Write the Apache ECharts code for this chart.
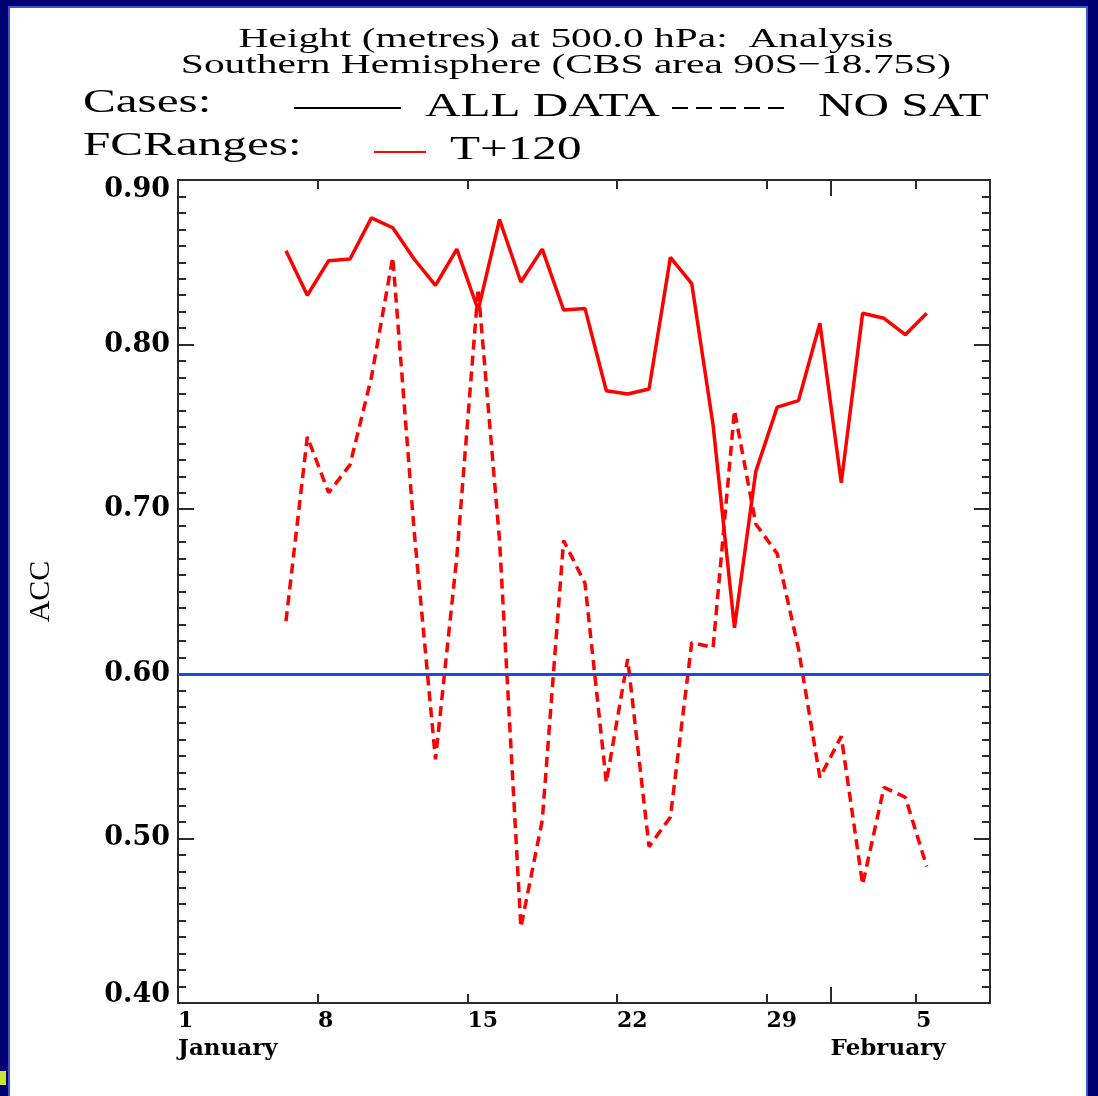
<!DOCTYPE html>
<html>
<head>
<meta charset="utf-8">
<script src="https://cdn.jsdelivr.net/npm/echarts@6/dist/echarts.min.js"></script>
<style>
  html, body { margin: 0; padding: 0; background: #fff; }
  #chart { width: 1098px; height: 1096px; }
</style>
</head>
<body>
<div id="chart"></div>
<script>
// day of January (Feb 1 = 32), one point per day at 12Z
const days = [6.5, 7.5, 8.5, 9.5, 10.5, 11.5, 12.5, 13.5, 14.5, 15.5, 16.5,
  17.5, 18.5, 19.5, 20.5, 21.5, 22.5, 23.5, 24.5, 25.5, 26.5, 27.5, 28.5,
  29.5, 30.5, 31.5, 32.5, 33.5, 34.5, 35.5, 36.5]

// ACC, all data (solid)
const allData = [0.857, 0.830, 0.851, 0.852, 0.877, 0.871, 0.852, 0.836, 0.858,
  0.821, 0.876, 0.838, 0.858, 0.821, 0.822, 0.772, 0.770, 0.773, 0.853, 0.837,
  0.751, 0.628, 0.723, 0.762, 0.766, 0.813, 0.716, 0.819, 0.816, 0.806, 0.819]

// ACC, no satellite data (dashed)
const noSat = [0.632, 0.744, 0.710, 0.727, 0.780, 0.853, 0.687, 0.548, 0.671,
  0.834, 0.681, 0.446, 0.511, 0.681, 0.655, 0.534, 0.609, 0.495, 0.513, 0.619,
  0.616, 0.760, 0.691, 0.673, 0.615, 0.537, 0.562, 0.472, 0.531, 0.525, 0.483]

const refLine = 0.597

// x axis ticks / labels
const xMin = 1.445
const xMax = 39.465
const weekTicks = [8, 15, 22, 29, 36]
const monthTicks = [32]
const dayLabelPos = [xMin, 8, 15, 22, 29, 36]
const dayLabelText = ['1', '8', '15', '22', '29', '5']
const monthLabelPos = [xMin, 32]
const monthLabelText = ['January', 'February']

const serif = '"Liberation Serif", "Times New Roman", serif'
const boldSerif = '"DejaVu Serif", serif'
const frameColor = '#2b2b2b'

function pairs(ys) {
  return days.map((d, i) => [d, ys[i]])
}

function labelFor(pos, text) {
  return function (v) {
    for (let i = 0; i < pos.length; i++) {
      if (Math.abs(v - pos[i]) < 0.01) return text[i]
    }
    return ''
  }
}

// stretched serif text, like the original plot
function wideText(x, y, text, size, sx, align) {
  return {
    type: 'text', x: x, y: y, scaleX: sx,
    style: {
      text: text, fill: '#000', font: size + 'px ' + serif,
      align: align, verticalAlign: 'middle', textAlign: align, textVerticalAlign: 'middle'
    }
  }
}

const chart = echarts.init(document.getElementById('chart'))

const yCommon = {
  type: 'value',
  min: 0.4,
  max: 0.9,
  interval: 0.1,
  splitLine: { show: false },
  axisLine: { show: true, lineStyle: { color: frameColor, width: 2 } },
  axisTick: { show: true, inside: true, length: 16, lineStyle: { color: frameColor, width: 2 } },
  minorTick: { show: true, splitNumber: 10, length: 8, lineStyle: { color: frameColor, width: 2 } }
}

const xCommon = {
  type: 'value',
  min: xMin,
  max: xMax,
  splitLine: { show: false }
}

chart.setOption({
  animation: false,
  backgroundColor: '#ffffff',
  grid: { left: 178, top: 180, right: 108, bottom: 93, containLabel: false },
  xAxis: [
    Object.assign({}, xCommon, {
      position: 'bottom',
      axisLine: { show: true, onZero: false, lineStyle: { color: frameColor, width: 2 } },
      axisTick: { show: true, inside: true, length: 9, customValues: weekTicks, lineStyle: { color: frameColor, width: 2 } },
      axisLabel: {
        show: true, customValues: dayLabelPos, formatter: labelFor(dayLabelPos, dayLabelText),
        align: 'left', margin: 7, color: '#000',
        fontFamily: boldSerif, fontWeight: 'bold', fontSize: 22
      }
    }),
    Object.assign({}, xCommon, {
      position: 'bottom',
      axisLine: { show: false, onZero: false },
      axisTick: { show: true, inside: true, length: 16, customValues: monthTicks, lineStyle: { color: frameColor, width: 2 } },
      axisLabel: {
        show: true, customValues: monthLabelPos, formatter: labelFor(monthLabelPos, monthLabelText),
        align: 'left', margin: 35, color: '#000',
        fontFamily: boldSerif, fontWeight: 'bold', fontSize: 23
      }
    }),
    Object.assign({}, xCommon, {
      position: 'top',
      axisLine: { show: true, onZero: false, lineStyle: { color: frameColor, width: 2 } },
      axisTick: { show: true, inside: true, length: 9, customValues: weekTicks, lineStyle: { color: frameColor, width: 2 } },
      axisLabel: { show: false }
    }),
    Object.assign({}, xCommon, {
      position: 'top',
      axisLine: { show: false, onZero: false },
      axisTick: { show: true, inside: true, length: 16, customValues: monthTicks, lineStyle: { color: frameColor, width: 2 } },
      axisLabel: { show: false }
    })
  ],
  yAxis: [
    Object.assign({}, yCommon, {
      position: 'left',
      name: 'ACC',
      nameLocation: 'middle',
      nameRotate: 90,
      nameGap: 122,
      nameTextStyle: { fontFamily: serif, fontSize: 30, color: '#000' },
      axisLabel: {
        show: true, margin: 8, color: '#000',
        fontFamily: boldSerif, fontWeight: 'bold', fontSize: 27,
        formatter: function (v) {
          const s = v.toFixed(2)
          if (v > 0.895) return '{t|' + s + '}'
          if (v < 0.405) return '{b|' + s + '}'
          return s
        },
        rich: {
          t: { fontFamily: boldSerif, fontWeight: 'bold', fontSize: 27, color: '#000', padding: [20, 0, 0, 0] },
          b: { fontFamily: boldSerif, fontWeight: 'bold', fontSize: 27, color: '#000', padding: [0, 0, 16, 0] }
        }
      }
    }),
    Object.assign({}, yCommon, {
      position: 'right',
      axisLabel: { show: false }
    })
  ],
  series: [
    {
      name: 'ALL DATA',
      type: 'line',
      xAxisIndex: 0,
      yAxisIndex: 0,
      data: pairs(allData),
      showSymbol: false,
      symbol: 'none',
      lineStyle: { color: '#ff0000', width: 3.5 },
      itemStyle: { color: '#ff0000' },
      markLine: {
        silent: true,
        symbol: 'none',
        label: { show: false },
        lineStyle: { color: '#1f48e0', width: 3, type: 'solid' },
        data: [{ yAxis: refLine }]
      }
    },
    {
      name: 'NO SAT',
      type: 'line',
      xAxisIndex: 0,
      yAxisIndex: 0,
      data: pairs(noSat),
      showSymbol: false,
      symbol: 'none',
      lineStyle: { color: '#ff0000', width: 3.5, type: [10, 6] },
      itemStyle: { color: '#ff0000' }
    }
  ],
  graphic: [
    // slide border
    { type: 'rect', shape: { x: 0, y: 0, width: 1098, height: 6 }, style: { fill: '#000070' } },
    { type: 'rect', shape: { x: 0, y: 0, width: 8, height: 1096 }, style: { fill: '#000070' } },
    { type: 'rect', shape: { x: 1088, y: 0, width: 10, height: 1096 }, style: { fill: '#000070' } },
    { type: 'rect', shape: { x: 8, y: 6, width: 1080, height: 2 }, style: { fill: '#3a56d0' } },
    { type: 'rect', shape: { x: 8, y: 6, width: 2, height: 1090 }, style: { fill: '#3a56d0' } },
    { type: 'rect', shape: { x: 1086, y: 6, width: 2, height: 1090 }, style: { fill: '#3a56d0' } },
    { type: 'rect', shape: { x: 0, y: 1071, width: 6, height: 14 }, style: { fill: '#c8e632' } },
    // titles
    wideText(566, 40, 'Height (metres) at 500.0 hPa:  Analysis', 28, 1.48, 'center'),
    wideText(566, 66, 'Southern Hemisphere (CBS area 90S\u221218.75S)', 28, 1.48, 'center'),
    // key
    wideText(83, 103, 'Cases:', 33, 1.49, 'left'),
    wideText(83, 146, 'FCRanges:', 33, 1.49, 'left'),
    { type: 'line', shape: { x1: 294, y1: 108, x2: 401, y2: 108 }, style: { stroke: '#000', lineWidth: 2 } },
    wideText(425, 107, 'ALL DATA', 33, 1.49, 'left'),
    { type: 'line', shape: { x1: 672, y1: 108, x2: 786, y2: 108 }, style: { stroke: '#000', lineWidth: 2, lineDash: [16, 8] } },
    wideText(818, 107, 'NO SAT', 33, 1.49, 'left'),
    { type: 'line', shape: { x1: 374, y1: 152, x2: 426, y2: 152 }, style: { stroke: '#ff0000', lineWidth: 2 } },
    wideText(450, 150, 'T+120', 33, 1.49, 'left')
  ]
})
</script>
</body>
</html>
